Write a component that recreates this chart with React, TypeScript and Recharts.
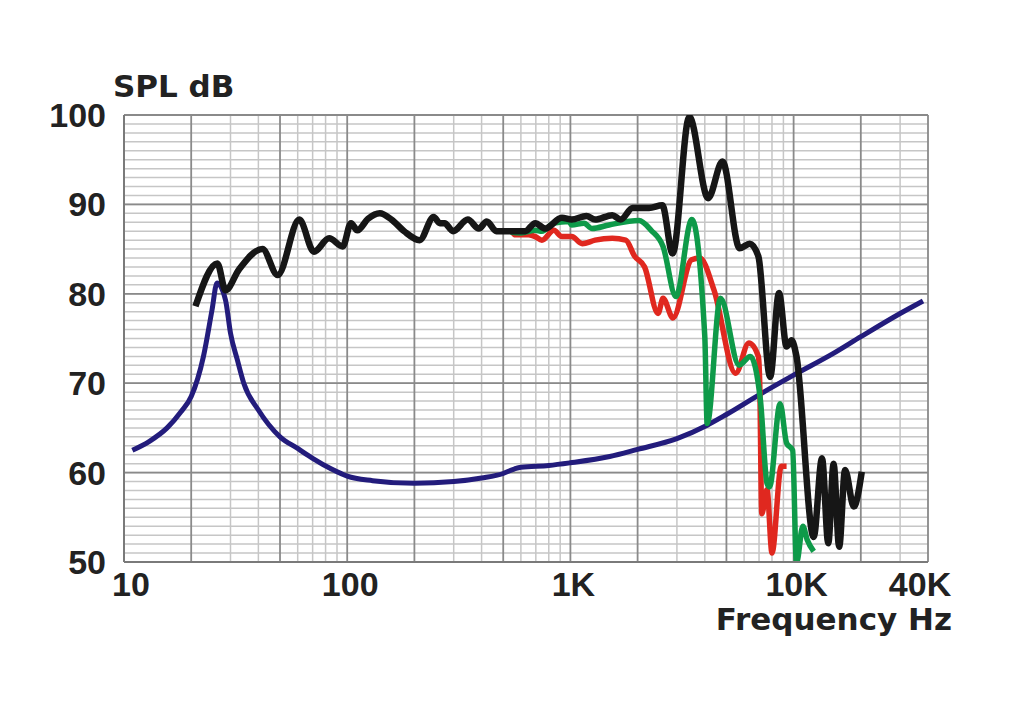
import { CartesianGrid, Label, Line, LineChart, XAxis, YAxis } from 'recharts';

// [frequency Hz, level dB]
const impedance: [number, number][] = [
  [10.9, 62.5], [13, 63.5], [15.6, 65], [18, 66.8], [20, 68.5], [22.7, 73], [24.8, 78.2],
  [26.1, 81.2], [28.5, 79.3], [30, 75.6], [32.2, 72.6], [34.4, 70], [40, 67], [50, 64],
  [60, 62.7], [70, 61.6], [85, 60.4], [100, 59.6], [130, 59.1], [200, 58.8], [300, 59],
  [400, 59.4], [500, 59.9], [560, 60.4], [600, 60.6], [800, 60.8], [1000, 61.1], [1500, 61.8],
  [2000, 62.6], [3000, 63.8], [4100, 65.3], [5000, 66.5], [7000, 68.7], [10000, 70.9],
  [15000, 73.3], [20000, 75.2], [30000, 77.8], [38000, 79.2],
];

const onAxis: [number, number][] = [
  [20.9, 78.6], [26.2, 83.4], [28.5, 80.4], [32.7, 82.7], [41.7, 85], [48.8, 82.1], [61, 88.3],
  [71, 84.7], [83, 86.2], [95.5, 85.3], [104, 87.9], [111, 87.1], [124, 88.4], [140, 89],
  [158, 88.3], [180, 87], [211, 86], [244, 88.6], [260, 87.9], [273, 87.9], [298, 87],
  [347, 88.3], [389, 87.3], [422, 88.1], [466, 87], [566, 87], [627, 87], [696, 87.9],
  [771, 87.3], [915, 88.5], [1013, 88.3], [1180, 88.7], [1290, 88.3], [1540, 88.8],
  [1680, 88.3], [1900, 89.6], [2250, 89.6], [2580, 89.9], [2870, 84.5], [3410, 99.8],
  [4140, 90.7], [4800, 94.8], [5730, 85.1], [6360, 85.6], [6950, 84.2], [7850, 70.7],
  [8600, 80.1], [9300, 74.1], [9800, 74.8], [10300, 73], [12300, 52.8], [13400, 61.6],
  [14300, 52.1], [15100, 61], [16000, 51.7], [17000, 60.3], [18600, 56.2], [20200, 60.1],
];

const offAxis60: [number, number][] = [
  [550, 86.9], [566, 86.6], [650, 86.6], [696, 86.4], [745, 86], [843, 87.1], [915, 86.4],
  [1013, 86.4], [1130, 85.6], [1290, 86], [1540, 86.2], [1770, 86], [1940, 84.2], [2150, 83],
  [2470, 77.8], [2600, 79.5], [2880, 77.3], [3490, 83.8], [3800, 84], [4400, 80.4],
  [5500, 71.1], [6300, 74.5], [6950, 73], [7050, 70], [7200, 55.4], [7600, 58.1], [8000, 51],
  [8800, 60.7], [9300, 60.7],
];

const offAxis30: [number, number][] = [
  [540, 86.9], [600, 86.8], [696, 87.1], [745, 87], [843, 87.9], [985, 88.1], [1013, 87.7],
  [1150, 87.9], [1250, 87.3], [1490, 87.7], [2030, 88.2], [2300, 87.1], [2600, 85.3],
  [2970, 79.7], [3500, 88.3], [4000, 75.2], [4100, 65.5], [4700, 79.5], [5700, 72],
  [6400, 73], [7100, 68.1], [7600, 58.8], [7800, 58.4], [8700, 67.7], [9300, 63.3],
  [9900, 62.5], [10300, 49.9], [11000, 54], [11500, 52.5], [12300, 51.2],
];

const xTicks = [10, 100, 1000, 10000, 40000];
const xTickLabels = ['10', '100', '1K', '10K', '40K'];
const yTicks = [50, 60, 70, 80, 90, 100];
const xMajorGrid = [10, 20, 50, 100, 200, 500, 1000, 2000, 5000, 10000, 20000, 40000];
const xMinorGrid = [
  30, 40, 60, 70, 80, 90, 300, 400, 600, 700, 800, 900, 3000, 4000, 6000, 7000, 8000, 9000, 30000,
];
const yMinorGrid = Array.from({ length: 51 }, (_, i) => 50 + i);

const toPoints = (rows: [number, number][]) => rows.map(([f, db]) => ({ f, db }));

const tickFont = { fontFamily: '"Liberation Sans", Arial, sans-serif', fontWeight: 700, fontSize: 34, fill: '#222' };
const titleFont = { fontFamily: '"DejaVu Sans", sans-serif', fontWeight: 700, fontSize: 31, fill: '#222' };

function XTick({ x, y, payload }: any) {
  const i = xTicks.indexOf(payload.value);
  const dx = payload.value === 10 ? -12 : payload.value === 40000 ? -8 : 3;
  const anchor = payload.value === 10 ? 'start' : 'middle';
  return (
    <text x={x + dx} y={y} dy="0.71em" textAnchor={anchor} {...tickFont}>
      {xTickLabels[i]}
    </text>
  );
}

export default function App() {
  return (
    <div style={{ width: 1016, height: 699, background: '#fff' }}>
      <LineChart width={1016} height={699} margin={{ top: 107, right: 96, left: 56, bottom: 85 }}>
        <CartesianGrid verticalValues={xMinorGrid} horizontalValues={yMinorGrid} stroke="#c6c6c6" strokeWidth={1.5} />
        <CartesianGrid verticalValues={xMajorGrid} horizontalValues={yTicks} stroke="#8a8a8a" strokeWidth={1.8} />
        <XAxis
          dataKey="f"
          type="number"
          scale="log"
          domain={[10, 40000]}
          ticks={xTicks}
          interval={0}
          height={60}
          allowDataOverflow
          axisLine={{ stroke: '#7a7a7a', strokeWidth: 2 }}
          tickLine={false}
          tickSize={0}
          tickMargin={10}
          tick={<XTick />}
        >
          <Label
            content={({ viewBox }: any) => (
              <text x={viewBox.x + viewBox.width + 24} y={viewBox.y + 68} textAnchor="end" {...titleFont}>
                Frequency Hz
              </text>
            )}
          />
        </XAxis>
        <YAxis
          type="number"
          domain={[50, 100]}
          ticks={yTicks}
          interval={0}
          width={60}
          allowDataOverflow
          axisLine={{ stroke: '#7a7a7a', strokeWidth: 2 }}
          tickLine={false}
          tickSize={0}
          tickMargin={18}
          tick={tickFont}
        >
          <Label
            content={({ viewBox }: any) => (
              <text x={viewBox.x + viewBox.width - 11} y={viewBox.y - 18} textAnchor="start" {...titleFont}>
                SPL dB
              </text>
            )}
          />
        </YAxis>
        <Line data={toPoints(impedance)} dataKey="db" type="monotone" stroke="#231c7c" strokeWidth={5} dot={false} isAnimationActive={false} />
        <Line data={toPoints(offAxis60)} dataKey="db" type="monotone" stroke="#e0281f" strokeWidth={5.5} dot={false} isAnimationActive={false} />
        <Line data={toPoints(offAxis30)} dataKey="db" type="monotone" stroke="#0e9a49" strokeWidth={5.5} dot={false} isAnimationActive={false} />
        <Line data={toPoints(onAxis)} dataKey="db" type="monotone" stroke="#161616" strokeWidth={6.5} dot={false} isAnimationActive={false} />
      </LineChart>
    </div>
  );
}
